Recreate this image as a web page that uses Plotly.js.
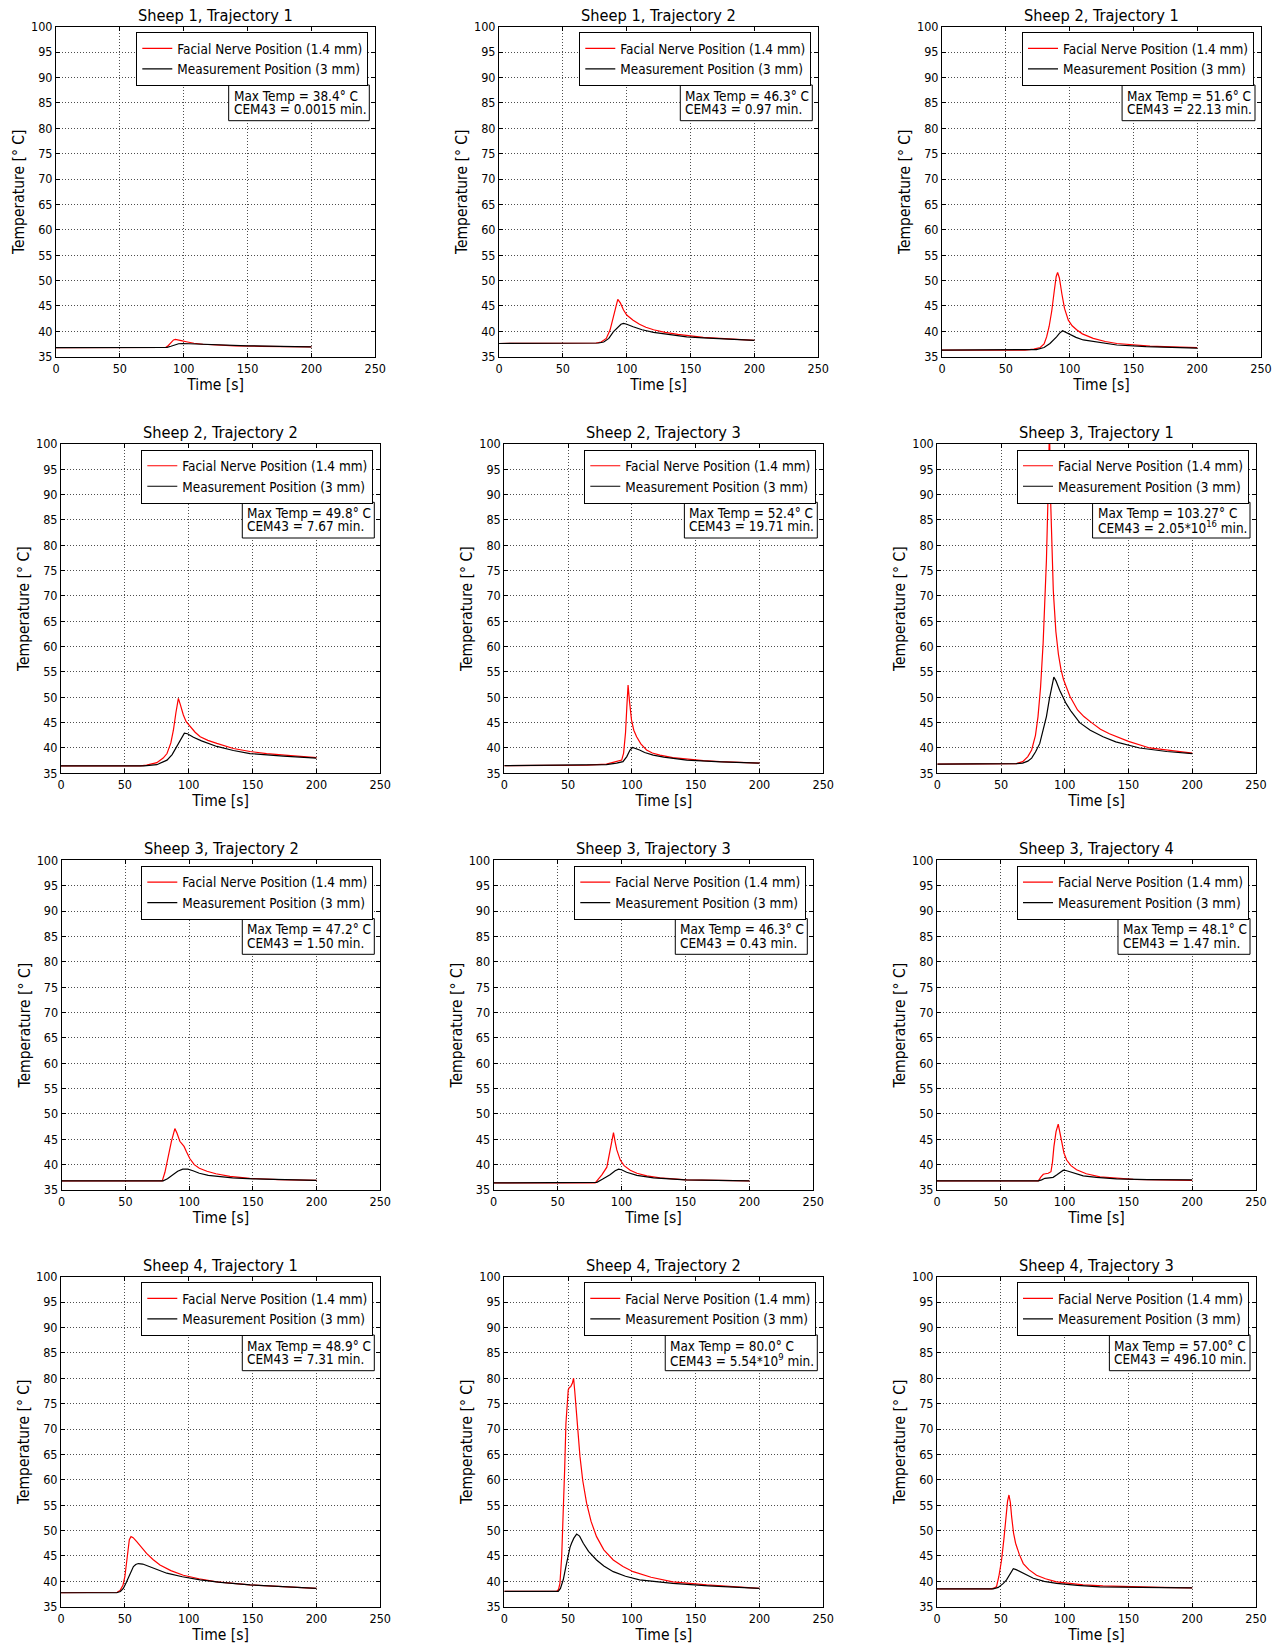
<!DOCTYPE html>
<html><head><meta charset="utf-8">
<script src="https://cdn.plot.ly/plotly-3.0.1.min.js"></script>
<style>body{margin:0;background:#fff}#chart{width:1279px;height:1647px}</style>
</head><body><div id="chart"></div><script>
// ---------------- DATA ----------------
const panelTitles = ['Sheep 1, Trajectory 1','Sheep 1, Trajectory 2','Sheep 2, Trajectory 1',
  'Sheep 2, Trajectory 2','Sheep 2, Trajectory 3','Sheep 3, Trajectory 1',
  'Sheep 3, Trajectory 2','Sheep 3, Trajectory 3','Sheep 3, Trajectory 4',
  'Sheep 4, Trajectory 1','Sheep 4, Trajectory 2','Sheep 4, Trajectory 3'];
const maxTemps = ['38.4','46.3','51.6','49.8','52.4','103.27','47.2','46.3','48.1','48.9','80.0','57.00'];
const cem43 = ['0.0015','0.97','22.13','7.67','19.71','2.05*10<sup>16</sup>','1.50','0.43','1.47','7.31','5.54*10<sup>9</sup>','496.10'];
const seriesNames = ['Facial Nerve Position (1.4 mm)','Measurement Position (3 mm)'];
const xTickVals = [0,50,100,150,200,250];
const yTickVals = [35,40,45,50,55,60,65,70,75,80,85,90,95,100];

// Sheep 1, Trajectory 1
const s1t1_red_time = [0,80,86,88,90,92,93.5,95,98,102,108,115,125,140,160,180,200];
const s1t1_red_temp = [36.8,36.8,36.85,37.2,37.8,38.3,38.4,38.35,38.15,37.95,37.65,37.45,37.3,37.15,37.05,37.0,36.95];
const s1t1_blk_time = [0,80,87,90,93,96,99,104,112,125,150,175,200];
const s1t1_blk_temp = [36.8,36.8,36.85,37.05,37.35,37.55,37.6,37.55,37.45,37.3,37.15,37.05,36.95];
// Sheep 1, Trajectory 2
const s1t2_red_time = [0,70,76,80,84,87,90,92,93,95,97.5,100,105,110,115,121,130,140,150,160,173,185,200];
const s1t2_red_temp = [37.6,37.6,37.7,37.9,38.6,40.3,43.5,45.7,46.3,45.6,44.2,43.2,42.2,41.4,40.8,40.3,39.8,39.4,39.1,38.8,38.6,38.4,38.2];
const s1t2_blk_time = [0,72,78,82,86,89.5,93,95.5,97.5,100,105,112,121,135,147,160,175,200];
const s1t2_blk_temp = [37.6,37.6,37.7,37.9,38.6,39.9,40.9,41.4,41.55,41.4,40.9,40.3,39.8,39.3,38.9,38.7,38.5,38.2];
// Sheep 2, Trajectory 1
const s2t1_red_time = [0,65,72,77,80,82,84,86,88,89.5,90.6,92,94,96,99,102,105.5,110,118.5,128,137,150,163,180,200];
const s2t1_red_temp = [36.3,36.3,36.5,36.8,37.5,38.9,41,44,48,50.8,51.6,50.5,47.3,44.5,42.2,41.1,40.3,39.5,38.6,38.0,37.6,37.3,37.1,36.95,36.8];
const s2t1_blk_time = [0,65,74,80,84.6,89.8,92,94.5,97,100,105,110.7,120,137,160,200];
const s2t1_blk_temp = [36.3,36.3,36.4,36.8,37.6,38.9,39.6,40.1,39.8,39.3,38.8,38.3,37.9,37.3,37.0,36.7];
// Sheep 2, Trajectory 2
const s2t2_red_time = [0,62,67,75,80,83,86,88,90,91.9,93.5,95.8,98,101,105,109,115,122,135,148,161,180,200];
const s2t2_red_temp = [36.45,36.45,36.6,37.1,38.0,38.9,41.0,43.5,47.0,49.8,48.5,46.5,45.2,44.2,43.1,42.2,41.5,40.9,39.9,39.3,38.9,38.5,38.1];
const s2t2_blk_time = [0,65,75,80,83,87,90.6,94,96.6,99,103.7,110,122,135,148,174,200];
const s2t2_blk_temp = [36.45,36.45,36.7,37.2,37.6,38.7,40.3,42.0,42.9,42.8,42.1,41.4,40.3,39.5,38.9,38.4,38.0];
// Sheep 2, Trajectory 3
const s2t3_red_time = [0,65,80,88,92,93.5,95,96,97,98,99.7,101.5,103.7,107,111.5,116,122,132,143,156,169,185,200];
const s2t3_red_temp = [36.5,36.6,36.8,37.3,37.6,39,43,48,52.4,49.5,45.5,43.5,42.2,40.8,39.6,39.0,38.6,38.1,37.8,37.5,37.3,37.15,37.0];
const s2t3_blk_time = [0,70,80,88,93,96,98.5,100.5,103,106,110,116.7,125,143,170,200];
const s2t3_blk_temp = [36.5,36.55,36.7,37.0,37.3,38.3,39.6,40.1,39.9,39.6,39.1,38.6,38.2,37.6,37.25,37.0];
// Sheep 3, Trajectory 1
const s3t1_red_time = [0,55,62,67,71,74,77,79,81,83,84.5,85.6,86.7,88,89,90,91,93,95,97,99,101.3,104,110,115,121,128,135,150,166.6,185,200];
const s3t1_red_temp = [36.8,36.8,36.9,37.3,38.3,39.6,42.5,46.2,52,60.6,70,77,88,103.27,88,78,71,63,58.5,55.5,53.5,52,50.2,47.5,46.2,45.0,43.7,42.8,41.3,40.0,39.4,39.0];
const s3t1_blk_time = [0,55,62,67,71,74,77,80.4,83,85.6,88,90,91.4,93,96,101,105,111.7,120,130,140,158.7,180,200];
const s3t1_blk_temp = [36.8,36.8,36.9,37.0,37.4,38.0,39.2,40.9,43.3,46.2,49.8,52.6,54.0,53.3,51.4,48.8,47.2,45.0,43.5,42.2,41.2,40.0,39.3,38.9];
// Sheep 3, Trajectory 2
const s3t2_red_time = [0,78.9,81,83.6,86,88.8,90.5,92.7,94.5,96,98,100.5,104,108,114,121,132,147.5,170,200];
const s3t2_red_temp = [36.8,36.8,38.5,41.6,44.5,47.1,46.2,44.6,44.1,43.6,42.5,41.2,40.0,39.3,38.7,38.2,37.7,37.3,37.05,36.9];
const s3t2_blk_time = [0,79.6,83,87.5,91,95,99,103,108,115,125,134,150,175,200];
const s3t2_blk_temp = [36.8,36.8,37.2,38.0,38.7,39.1,39.1,38.8,38.3,37.9,37.6,37.4,37.2,37.0,36.9];
// Sheep 3, Trajectory 3
const s3t3_red_time = [0,79.4,82,84.6,88.5,90,91.5,93.7,95,96.3,99,102,106.8,112,119.8,130,151,175,200];
const s3t3_red_temp = [36.4,36.4,37.2,38.0,39.5,41.5,44,46.3,44.5,42.9,40.9,39.8,38.9,38.3,37.8,37.4,37.0,36.85,36.8];
const s3t3_blk_time = [0,80.7,85,91,95,97.7,100,104,112,125,150,200];
const s3t3_blk_temp = [36.4,36.5,37.1,38.0,38.8,39.1,39.0,38.5,37.9,37.4,37.0,36.8];
// Sheep 3, Trajectory 4
const s3t4_red_time = [0,79.4,81.5,83.3,85,87.2,89.3,90.5,91.6,93.3,95,96.3,97.7,99.5,101.6,105,109.4,117,127.7,140,153.8,175,200];
const s3t4_red_temp = [36.8,36.8,37.6,38.1,38.2,38.3,38.6,40.5,43.5,46.5,48.0,46.5,44.2,42.3,40.9,39.8,39.0,38.2,37.6,37.3,37.1,37.0,36.9];
const s3t4_blk_time = [0,79.4,82,84.6,88,91,94,97,99,101,104,109,114.6,125,140.7,165,200];
const s3t4_blk_temp = [36.8,36.8,37.0,37.3,37.4,37.5,38.0,38.6,38.9,38.85,38.6,38.2,37.8,37.5,37.2,37.05,37.0];
// Sheep 4, Trajectory 1
const s4t1_red_time = [0,41,44,46.2,48.5,50,51.2,52.2,53.5,54.8,56.5,59.3,63,67,72,77.5,86,95.8,108,122,135,148,170,200];
const s4t1_red_temp = [37.75,37.75,37.85,38.2,39.2,40.9,43.5,46.2,48.2,48.8,48.6,47.8,46.6,45.5,44.3,43.2,42.1,41.2,40.5,39.9,39.6,39.3,39.0,38.6];
const s4t1_blk_time = [0,43.6,46.5,48.8,51,52.7,54.5,56.7,58.5,60.6,64,69.7,76,82.8,95,108.9,125,148,170,200];
const s4t1_blk_temp = [37.75,37.75,38.0,38.6,39.7,40.6,41.8,42.9,43.3,43.5,43.4,42.9,42.2,41.6,40.9,40.3,39.8,39.3,39.0,38.6];
// Sheep 4, Trajectory 2
const s4t2_red_time = [0,41,42.5,43.6,45,46.2,47.3,48.3,49.3,50.1,51,52,53.3,54.3,55.2,56.1,57.5,59.3,61.5,64.5,68,72.3,78,85.4,93,101,115,132,158.5,180,200];
const s4t2_red_temp = [38.0,38.0,38.4,39.6,45,52.7,62,71.1,76,77.7,78.2,78.3,79.0,80.0,77.5,74.4,69.5,64.6,59.8,55.4,51.8,48.8,46.2,44.2,42.9,41.9,40.8,39.9,39.3,38.9,38.6];
const s4t2_blk_time = [0,42.3,44,46.2,48.5,50.1,51.5,52.7,54.5,56.7,59,61.9,66,72.3,78,85.4,95,106,120,132,160,200];
const s4t2_blk_temp = [38.0,38.0,38.6,40.3,43.2,45.5,46.7,47.5,48.5,49.3,48.9,47.5,45.9,44.2,43.0,41.9,41.0,40.3,39.9,39.6,39.1,38.6];
// Sheep 4, Trajectory 3
const s4t3_red_time = [0,42.8,45,46.7,48.5,50.6,52.5,54,55.3,56.4,57.5,58.5,60,61.6,64.5,67.6,72,78,85,93.7,104,114.6,130,153.8,175,200];
const s4t3_red_temp = [38.5,38.5,38.7,39.0,41.0,44.2,48.5,52.7,55.8,57.0,55.5,52.7,49.5,47.5,45.3,43.5,42.3,41.2,40.5,39.9,39.6,39.3,39.1,38.9,38.8,38.7];
const s4t3_blk_time = [0,44,48,52,54.5,56.7,58.3,59.8,62,65,70,75.5,84,93.7,110,127.7,160,200];
const s4t3_blk_temp = [38.5,38.5,38.8,39.6,40.3,41.2,42.0,42.5,42.3,41.9,41.2,40.6,40.0,39.6,39.2,38.9,38.8,38.7];

// ---------------- FONT CALIBRATION ----------------
const cv = document.createElement('canvas').getContext('2d');
function fontAvailable(fam) {
  const s = 'Facial Nerve Position (1.4 mm) Wmi';
  cv.font = '50px monospace'; const a = cv.measureText(s).width;
  cv.font = '50px "' + fam + '", monospace'; const b = cv.measureText(s).width;
  return Math.abs(a - b) > 0.5;
}
const FONT = fontAvailable('DejaVu Sans Condensed') ? 'DejaVu Sans Condensed' : 'DejaVu Sans';
function textW(s, size) { cv.font = size + 'px "' + FONT + '"'; return cv.measureText(s).width; }
function richW(s, size) {
  let w = 0;
  s.split(/(<sup>.*?<\/sup>)/).forEach(part => {
    if (part.startsWith('<sup>')) w += textW(part.replace(/<\/?sup>/g, ''), size * 0.7);
    else w += textW(part, size);
  });
  return w;
}
function fit(s, target) { return target / textW(s, 100) * 100; }
const titleSize = fit('Sheep 1, Trajectory 1', 155);
const legendSize = fit('Facial Nerve Position (1.4 mm)', 185);
const boxSize = fit('CEM43 = 0.0015 min.', 132.7);
const tickSize = fit('100', 21.5);
const axisSize = fit('Time [s]', 56.7);

// ---------------- LAYOUT GEOMETRY (pixels in the 1279x1647 page) ----------------
const W = 1279, H = 1647;
const panels = [
  {box:[56,26.7,375.3,356.7],   red:[s1t1_red_time,s1t1_red_temp], blk:[s1t1_blk_time,s1t1_blk_temp]},
  {box:[499,26.7,818.3,356.7],  red:[s1t2_red_time,s1t2_red_temp], blk:[s1t2_blk_time,s1t2_blk_temp]},
  {box:[942,26.7,1261,356.7],   red:[s2t1_red_time,s2t1_red_temp], blk:[s2t1_blk_time,s2t1_blk_temp]},
  {box:[61,444,380.3,773.3],    red:[s2t2_red_time,s2t2_red_temp], blk:[s2t2_blk_time,s2t2_blk_temp]},
  {box:[504.3,444,823.3,773.3], red:[s2t3_red_time,s2t3_red_temp], blk:[s2t3_blk_time,s2t3_blk_temp]},
  {box:[937.3,444,1256,773.3],  red:[s3t1_red_time,s3t1_red_temp], blk:[s3t1_blk_time,s3t1_blk_temp]},
  {box:[61.7,860.3,380.3,1190], red:[s3t2_red_time,s3t2_red_temp], blk:[s3t2_blk_time,s3t2_blk_temp]},
  {box:[493.7,860.3,813.3,1190],red:[s3t3_red_time,s3t3_red_temp], blk:[s3t3_blk_time,s3t3_blk_temp]},
  {box:[937,860.3,1256,1190],   red:[s3t4_red_time,s3t4_red_temp], blk:[s3t4_blk_time,s3t4_blk_temp]},
  {box:[61,1276.7,380.3,1606.7],red:[s4t1_red_time,s4t1_red_temp], blk:[s4t1_blk_time,s4t1_blk_temp]},
  {box:[504.3,1276.7,823.3,1606.7],red:[s4t2_red_time,s4t2_red_temp], blk:[s4t2_blk_time,s4t2_blk_temp]},
  {box:[937,1276.7,1256,1606.7],red:[s4t3_red_time,s4t3_red_temp], blk:[s4t3_blk_time,s4t3_blk_temp]}
];

const traces = [];
const layout = {
  width: W, height: H, margin:{l:0,r:0,t:0,b:0},
  paper_bgcolor:'#fff', plot_bgcolor:'#fff',
  font:{family:FONT, color:'#000', size:12},
  annotations: [], shapes: [], showlegend: true
};

const axCommon = {
  showline:true, linecolor:'#000', linewidth:1, mirror:'allticks',
  ticks:'inside', ticklen:4, tickcolor:'#000', tickwidth:1,
  showgrid:true, gridcolor:'#222', gridwidth:0.8, griddash:'1px,2px',
  zeroline:false, fixedrange:true,
  tickfont:{family:FONT, size:tickSize, color:'#000'}
};

panels.forEach((p, i) => {
  const n = i === 0 ? '' : String(i + 1);
  const [l, t, r, b] = p.box;
  const pw = r - l, ph = b - t;
  const xa = 'x' + n, ya = 'y' + n;
  const legName = 'legend' + n;
  traces.push({
    type:'scatter', mode:'lines', x:p.red[0], y:p.red[1], name:seriesNames[0],
    xaxis:xa, yaxis:ya, legend:legName, line:{color:'#ff0000', width:1.2}
  });
  traces.push({
    type:'scatter', mode:'lines', x:p.blk[0], y:p.blk[1], name:seriesNames[1],
    xaxis:xa, yaxis:ya, legend:legName, line:{color:'#000000', width:1.2}
  });
  layout['xaxis' + n] = Object.assign({}, axCommon, {
    domain:[l / W, r / W], anchor:ya, range:[0,250], tickvals:xTickVals,
    title:{text:'Time [s]', font:{family:FONT, size:axisSize, color:'#000'}, standoff:3}
  });
  layout['yaxis' + n] = Object.assign({}, axCommon, {
    domain:[1 - b / H, 1 - t / H], anchor:xa, range:[35,100], tickvals:yTickVals,
    title:{text:'Temperature [° C]', font:{family:FONT, size:axisSize, color:'#000'}, standoff:2}
  });
  layout[legName] = {
    x:(r - 7) / W, xanchor:'right', y:1 - (t + 5.5) / H, yanchor:'top',
    bordercolor:'#000', borderwidth:1, bgcolor:'#fff',
    font:{family:FONT, size:legendSize, color:'#000'}, tracegroupgap:0, itemwidth:30
  };
  layout.annotations.push({
    text:panelTitles[i], xref:xa + ' domain', yref:ya + ' domain', x:0.5, y:1,
    xanchor:'center', yanchor:'bottom', yshift:0, showarrow:false,
    font:{family:FONT, size:titleSize, color:'#000'}
  });
  // info box: frame + two text lines
  const line1 = 'Max Temp = ' + maxTemps[i] + '° C';
  const line2 = 'CEM43 = ' + cem43[i] + ' min.';
  const boxW = Math.max(richW(line1, boxSize), richW(line2, boxSize)) + 8;
  const bRight = 6, bTop = 58.3, bH = 35.7;
  layout.shapes.push({
    type:'rect', xref:xa + ' domain', yref:ya + ' domain', layer:'above',
    x0:1 - (bRight + boxW) / pw, x1:1 - bRight / pw,
    y0:1 - (bTop + bH) / ph, y1:1 - bTop / ph,
    line:{color:'#000', width:1}, fillcolor:'#fff'
  });
  [[line1, 11.2], [line2, 24.5]].forEach(([txt, dy]) => {
    layout.annotations.push({
      text:txt, xref:xa + ' domain', yref:ya + ' domain',
      x:1 - (bRight + boxW - 4) / pw, y:1 - (bTop + dy) / ph,
      xanchor:'left', yanchor:'middle', showarrow:false, borderpad:0,
      font:{family:FONT, size:boxSize, color:'#000'}
    });
  });
});

Plotly.newPlot('chart', traces, layout, {staticPlot:true, displayModeBar:false});
</script></body></html>
